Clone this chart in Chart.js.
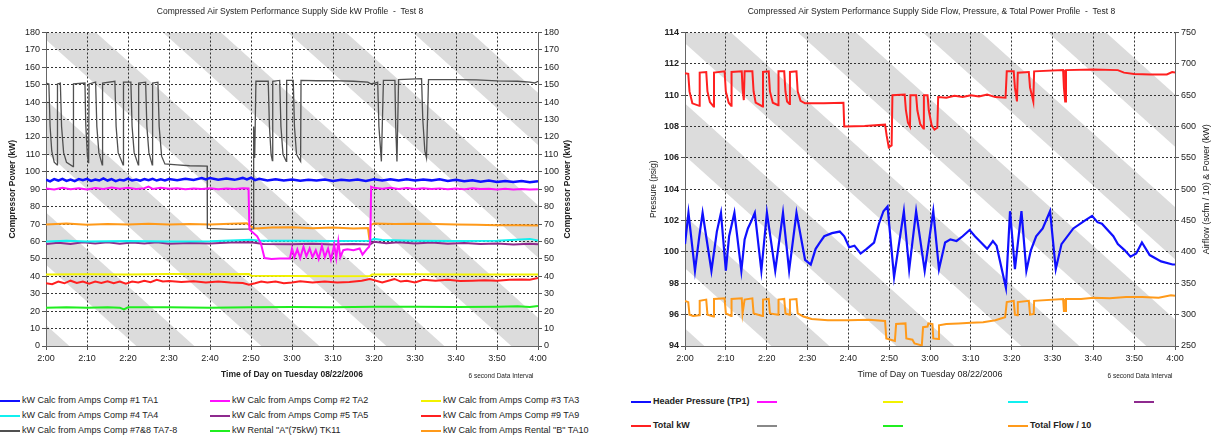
<!DOCTYPE html>
<html lang="en">
<head>
<meta charset="UTF-8" />
<title>Compressed Air System Performance - Test 8</title>
<script src="https://cdn.jsdelivr.net/npm/chart.js"></script>
<style>
    body {
        margin: 0;
        width: 1211px;
        height: 440px;
        overflow: hidden;
        position: relative;
        background: #fff;
        font-family: Arial, "Liberation Sans", sans-serif;
        color: #222;
    }
    canvas { position: absolute; top: 0; }
    #kwChart { left: 0; }
    #flowChart { left: 649px; }
    .item {
        position: absolute;
        height: 12px;
        line-height: 12px;
        font-size: 9px;
        white-space: nowrap;
    }
    .item i {
        display: inline-block;
        width: 20px;
        height: 2px;
        vertical-align: middle;
        margin-right: 2px;
    }
</style>
</head>
<body>
<canvas id="kwChart" width="580" height="390"></canvas>
<canvas id="flowChart" width="565" height="390"></canvas>
<div id="legends"></div>

<script>
// minutes after 2:00 -> value
const xTickLabels = ['2:00','2:10','2:20','2:30','2:40','2:50','3:00','3:10','3:20','3:30','3:40','3:50','4:00'];

// ---- left chart: kW per compressor ----
const comp1 = [[0,95.5],[1,94.5],[2,95.8],[3,95],[4,96],[5,94.8],[6,95.5],[7,94.6],[8,95.8],[9,95.2],[10,96],[11,94.8],[12,95.6],[13,95],[14,96.2],[15,95],[16,95.8],[17,94.7],[18,95.5],[19,95.1],[20,96.1],[21,95],[22,95.6],[23,94.9],[24,95.8],[25,95.2],[26,96],[27,95],[28,95.7],[29,95.1],[30,95.9],[32,95.2],[34,96],[36,95.3],[38,96.4],[39,95.6],[40,96.5],[42,95.5],[44,96.2],[46,95.4],[48,96.5],[49,95.6],[50,96.6],[51,95.2],[52,96],[54,95.1],[56,95.8],[58,95],[60,95.6],[62,94.9],[64,95.5],[66,95],[68,95.6],[70,94.8],[72,95.4],[74,95],[76,95.6],[78,94.8],[80,95.7],[82,95],[84,95.8],[86,95],[88,95.8],[90,95],[92,95.6],[94,95.1],[96,95.7],[98,94.8],[100,95.4],[102,94.6],[104,95.2],[106,94.3],[108,95],[110,94.2],[112,94.8],[114,94.1],[116,94.7],[118,94],[120,94.6]];
const comp2 = [[0,90.5],[2,89.8],[4,90.8],[6,90],[8,90.6],[10,89.8],[12,90.7],[14,90.2],[16,91],[18,90.3],[20,90.8],[22,90.1],[24,90.6],[25,91.5],[26,90.2],[28,90.8],[30,90.3],[32,90.6],[34,90],[36,90.4],[38,90.1],[40,90.5],[42,90],[44,90.4],[46,90.2],[48,90.6],[49.4,90.5],[49.6,67],[50.3,65.5],[51.5,63],[52.4,59],[53.3,50.5],[55,50],[57,50.2],[59.5,50.3],[60,56],[60.6,51],[61.3,55.5],[62,50.5],[62.8,57],[63.5,51.5],[64.3,56],[65,51],[65.8,55],[66.5,50],[67.3,57.5],[68,51],[68.8,56],[69.5,49.5],[70.3,58],[70.8,50.5],[71.3,60],[71.8,51],[72.5,55],[73.5,55.5],[75,55],[76.5,56],[77.2,52.5],[78.2,55.5],[78.8,57],[79.1,60],[79.3,91.5],[80,90.8],[82,90.3],[84,90.8],[86,90.2],[88,90.7],[90,90.1],[92,90.6],[94,90.2],[96,90.5],[98,90],[100,90.4],[102,90],[104,90.5],[106,90.1],[108,90.3],[110,89.9],[112,90.3],[114,89.8],[116,90.1],[118,89.8],[120,90]];
const comp3 = [[0,41],[10,41.2],[20,41],[30,41.3],[40,41.2],[49.5,41.4],[50,40.3],[60,40.2],[70,40],[79,40.2],[79.5,41],[90,41.2],[100,41],[110,41.1],[120,41]];
const comp4 = [[0,60],[5,60.5],[10,60],[20,60.3],[30,60],[40,60.2],[50,61],[52,60.5],[60,60.5],[70,60.3],[79,60.5],[80,61.5],[82,60.8],[90,60.5],[100,60.3],[110,60.5],[118,61.5],[120,60.5]];
const comp5 = [[0,58.5],[3,59.3],[6,58.6],[9,59.5],[12,58.8],[15,59.6],[18,58.7],[21,59.4],[24,58.9],[27,59.5],[30,58.7],[35,59.2],[40,58.9],[45,59.4],[50,59.6],[53,58.6],[60,58.4],[65,58.7],[70,58.3],[75,58.6],[79,58.3],[80,59.8],[83,59],[86,59.6],[90,58.9],[94,59.4],[98,58.7],[102,59.1],[106,58.5],[110,58.9],[114,58.3],[118,58.7],[120,58.4]];
const comp9 = [[0,36],[1.5,35.5],[3,37],[4.5,36],[6,37.5],[7.5,36.2],[9,37],[10.5,35.8],[12,37],[13.5,36.2],[15,37.2],[16.5,36],[18,37],[19.5,35.8],[21,37],[22.5,36.5],[24,37.5],[25.5,36.6],[27,38],[28.5,37],[30,37.3],[33,36.8],[36,37.2],[39,36.5],[42,37],[45,36.5],[48,36.2],[49.5,35.2],[51,36],[52.5,37],[54,36.5],[56,37],[58,36],[60,36.5],[62,37.2],[65,36.5],[68,37],[71,36.5],[74,36.8],[77,37.5],[79,38.5],[80.5,37.5],[82,36.5],[83.5,37.5],[85,38.5],[86.5,37],[88,37.5],[90,36.5],[92,38],[95,37.5],[98,38],[101,37.3],[104,37.5],[107,37.8],[110,37.5],[113,38],[116,38.2],[118,38],[120,39]];
const comp78 = [[0,151],[0.7,150.5],[1.0,126],[1.4,112],[2.0,105.5],[2.7,104],[2.8,150.5],[3.5,151],[3.8,126],[4.3,111],[5.0,105.5],[6.6,103],[6.7,150.5],[9.5,151],[9.7,127],[10.1,109],[10.4,105],[10.5,150.5],[12.1,151.5],[12.4,126],[12.9,111],[13.7,104],[13.8,151],[16.8,152],[17.1,126],[17.6,111],[18.8,104],[18.9,151.5],[20.7,151.5],[21.0,126],[21.5,111],[22.5,104],[22.6,151],[24.3,151.5],[24.6,126],[25.1,111],[25.9,104],[26.0,151],[27.3,151.5],[27.6,126],[28.2,109],[29.0,104.5],[32,104],[35,103.5],[39.3,103.3],[39.35,67.5],[45,67],[50.6,67.2],[50.65,126],[50.9,108],[51.2,152],[54.2,152],[54.5,126],[54.9,110],[55.2,106.5],[55.3,152],[57,152.5],[57.3,126],[57.8,110],[58.6,106],[58.7,152.5],[60.3,152.5],[60.6,126],[61.1,110],[62.1,106],[62.2,152.5],[66,152.3],[70,152.4],[75,152],[78.5,151.5],[79.2,150.5],[80.3,151],[80.9,151.5],[81.2,126],[81.8,106],[82.3,152.5],[85.1,152.5],[85.3,126],[85.6,106],[86,153],[91.6,153.5],[91.9,130],[92.4,112],[92.8,108],[93.3,153],[100,153],[105,152.8],[110,152.2],[115,152],[118,151.5],[119.2,151],[120,152]];
const rentalA = [[0,22],[5,22.2],[10,22],[15,22.3],[18,22],[19,21],[20,22.2],[30,22.2],[40,22],[50,22.3],[60,22.4],[70,22.3],[80,22.6],[90,22.5],[100,22.4],[110,22.6],[115,22.8],[118,22.4],[120,23]];
const rentalB = [[0,69.8],[5,70.3],[10,69.6],[15,70],[20,69.8],[25,70.2],[30,69.7],[35,70],[40,69.8],[45,70.2],[49,70.5],[50,68.5],[51,67.5],[55,68],[60,68.2],[65,67.6],[70,68],[75,67.5],[78.5,67.8],[78.9,61],[79.2,69.5],[80,70.3],[85,70],[90,70.2],[95,70],[100,69.7],[105,69.6],[110,69.4],[115,69.3],[120,69.2]];

// ---- right chart: pressure (psig), total kW, total flow / 10 ----
const headerPressure = [[0,100.5],[0.85,102.5],[2.44,98.8],[3.5,101],[4.31,102.5],[6.47,98.8],[7.8,101.3],[8.81,102.5],[10.0,98.8],[10.8,101],[12.1,102.5],[13.8,98.8],[14.6,100.8],[15.4,101.5],[16.3,102],[17.1,102.5],[18.7,98.8],[20.06,102.5],[22.1,98.8],[24,102.5],[25.5,98.8],[27.3,102.5],[29.4,99.5],[30.8,99.2],[32,100.2],[33,100.6],[34.1,101],[36,101.2],[37.9,101.3],[39,101],[40.2,100.3],[41.5,100.4],[43,99.9],[44.5,100.2],[46.3,100.6],[47.5,101.8],[48.6,102.6],[49.6,102.9],[51.2,98.4],[53.6,102.6],[54.9,98.9],[56.6,102.6],[58.7,98.8],[60.8,102.6],[62.2,98.9],[63.7,100.6],[65,100.8],[66.5,100.7],[68,101],[69.7,101.4],[71,101],[72.5,100.6],[74,100.2],[75.4,100.7],[76.3,100.4],[78.6,97.7],[79.6,102.6],[80.8,98.9],[82.4,102.6],[83.6,98.8],[84.7,100.1],[86,101],[87.6,101.5],[89.4,102.6],[90.8,98.9],[92.2,100.5],[95.1,101.5],[97.9,102],[99.7,102.3],[101,101.9],[102.1,101.8],[104.9,101],[106,100.5],[107.7,100.1],[109.1,99.7],[110.5,99.9],[111.9,100.6],[113.8,99.8],[116.6,99.4],[119.4,99.2],[120,99.2]];
const totalKw = [[0,685],[0.8,684],[1.1,656],[1.8,637],[3.5,633],[3.6,686],[5.2,687],[5.5,656],[6.1,639],[7.0,632],[7.1,686],[9.7,688],[10.0,656],[10.7,638],[11.3,633],[11.4,687],[13.9,688],[14.1,660],[14.4,642],[14.6,688],[16.5,688],[16.8,656],[17.3,638],[19.0,632],[19.1,687],[20.5,688],[20.8,656],[21.5,638],[22.8,634],[22.9,688],[24.3,688],[24.6,656],[25.0,640],[25.6,636],[25.7,687],[27.3,688],[27.6,656],[28.3,641],[29.4,637],[34,637],[38.8,638],[39.0,600],[44,601],[49,603],[49.4,585],[49.9,567],[50.6,570],[50.8,650],[53.8,651],[54.1,626],[54.6,606],[55.1,600],[55.2,650],[56.6,650],[56.9,626],[57.6,604],[58.4,597],[58.5,650],[59.4,650],[59.7,626],[60.4,602],[61.1,595],[61.8,598],[62.0,647],[64,646],[66,649],[68,647],[70,650],[72,648],[74,651],[76,647],[78.5,646],[78.8,688],[80.5,688],[80.8,662],[81.3,640],[81.5,686],[84.2,687],[84.5,662],[85.3,640],[85.5,688],[92.6,690],[92.8,662],[93.1,640],[93.3,690],[100,691],[106,690],[107.5,686],[110,684],[114,683],[118,683],[119.3,687],[120,686]];
const totalFlow = [[0,322],[0.8,320],[1.1,300],[2,298],[3.5,299],[3.6,322],[5.2,324],[5.5,300],[7.0,297],[7.1,325],[9.7,326],[10.0,302],[11.3,298],[11.4,325],[13.9,326],[14.1,302],[14.6,324],[16.5,326],[16.8,302],[19.0,298],[19.1,324],[20.5,325],[20.8,302],[22.8,300],[22.9,324],[24.3,325],[24.6,302],[25.6,300],[25.7,324],[27.3,325],[27.6,302],[29,297],[31,293],[35,291],[40,291],[45,292],[49.0,290],[49.3,262],[51.4,258],[51.7,285],[54.0,286],[54.2,262],[55.7,260],[56.2,254],[58.0,251],[58.3,280],[59.4,281],[59.6,286],[60.6,285],[60.8,262],[62.0,261],[62.2,283],[64,285],[67,286],[70,287],[73,288],[76,291],[78.4,296],[78.8,320],[80.5,322],[80.8,300],[81.4,299],[81.5,320],[84.2,322],[84.5,300],[85.4,301],[85.5,322],[92.6,325],[92.8,306],[93.2,306],[93.3,325],[97,325],[100,327],[104,326],[108,328],[112,328],[116,327],[119,331],[120,330]];

// legend labels
const kwNames = ['kW Calc from Amps Comp #1  TA1', 'kW Calc from Amps Comp #2 TA2', 'kW Calc from Amps Comp #3 TA3',
                 'kW Calc from Amps Comp #4  TA4', 'kW Calc from Amps Comp #5 TA5', 'kW Calc from Amps Comp #9 TA9',
                 'kW Calc from Amps Comp #7&8 TA7-8', 'kW Rental "A"(75kW) TK11', 'kW Calc from Amps Rental "B" TA10'];
const flowNames = ['Header Pressure (TP1)', '', '', '', '', 'Total kW', '', '', 'Total Flow / 10'];

const kwColors = ['#1010ff', '#ff10ff', '#f2f200', '#10f0f0', '#8e2a8e', '#ff2020', '#505050', '#20ee20', '#ff9a1a'];
const flowColors = ['#1010ff', '#ff10ff', '#f2f200', '#10f0f0', '#8e2a8e', '#ff2020', '#888888', '#20ee20', '#ff9a1a'];

Chart.defaults.font.family = 'Arial, "Liberation Sans", sans-serif';
Chart.defaults.color = '#222';

// diagonal grey watermark bands behind the grid
const stripes = {
    id: 'stripes',
    beforeDraw(chart, args, o) {
        const { ctx, chartArea: a } = chart;
        const run = a.height / o.slope;
        ctx.save();
        ctx.beginPath();
        ctx.rect(a.left, a.top, a.width, a.height);
        ctx.clip();
        ctx.fillStyle = o.color;
        for (let x0 = a.left + o.phase - 6 * o.period; x0 < a.right; x0 += o.period) {
            ctx.beginPath();
            ctx.moveTo(x0, a.top);
            ctx.lineTo(x0 + o.width, a.top);
            ctx.lineTo(x0 + o.width + run, a.bottom);
            ctx.lineTo(x0 + run, a.bottom);
            ctx.fill();
        }
        ctx.restore();
    }
};

// right axis title (reads bottom to top) and the data interval note
const extras = {
    id: 'extras',
    afterDraw(chart, args, o) {
        const { ctx, chartArea: a } = chart;
        ctx.save();
        ctx.fillStyle = '#222';
        ctx.textAlign = 'center';
        ctx.textBaseline = 'middle';
        ctx.font = '6.5px Arial, "Liberation Sans", sans-serif';
        ctx.fillText('6 second Data Interval', a.right - o.noteDx, 376);
        ctx.translate(o.sideX, (a.top + a.bottom) / 2);
        ctx.rotate(-Math.PI / 2);
        ctx.font = o.sideFont;
        ctx.fillText(o.side, 0, 0);
        ctx.restore();
    }
};

function line(data, color, width, axis) {
    return {
        data: data,
        borderColor: color,
        backgroundColor: color,
        borderWidth: width,
        pointRadius: 0,
        tension: 0,
        fill: false,
        yAxisID: axis || 'y'
    };
}

function xAxis(bold, size) {
    return {
        type: 'linear', min: 0, max: 120,
        afterFit: s => { s.height = 44; },
        ticks: { stepSize: 10, autoSkip: false, maxRotation: 0, padding: 3, color: '#222',
                 font: { size: 9 }, callback: (v, i) => xTickLabels[i] },
        grid: { color: '#333', tickLength: 4, tickColor: '#555', tickBorderDash: [] },
        border: { display: true, color: '#666', width: 1, dash: [2, 2] },
        title: { display: true, text: 'Time of Day on Tuesday 08/22/2006', color: '#222',
                 font: { size: size, weight: bold ? 'bold' : 'normal' }, padding: { top: 0, bottom: 10 } }
    };
}

function yAxis(pos, min, max, step, width, tickBold, title) {
    return {
        type: 'linear', position: pos, min: min, max: max,
        afterFit: s => { s.width = width; },
        ticks: { stepSize: step, padding: 2, color: '#222', font: { size: 9, weight: tickBold ? 'bold' : 'normal' } },
        grid: { drawOnChartArea: pos === 'left', color: '#333', tickLength: 4, tickColor: '#555', tickBorderDash: [] },
        border: { display: true, color: '#666', width: 1, dash: [2, 2] },
        title: title || { display: false }
    };
}

const kwSeries = [comp1, comp2, comp3, comp4, comp5, comp9, comp78, rentalA, rentalB];
const kwWidths = [2.5, 2, 2, 2, 2, 2, 1.3, 2, 2];

new Chart(document.getElementById('kwChart'), {
    type: 'line',
    data: { datasets: kwSeries.map((d, i) => Object.assign(line(d, kwColors[i], kwWidths[i]), { label: kwNames[i] })) },
    options: {
        responsive: false,
        animation: false,
        devicePixelRatio: 1,
        layout: { padding: 0 },
        plugins: {
            legend: { display: false },
            tooltip: { enabled: false },
            title: { display: true, text: 'Compressed Air System Performance Supply Side kW Profile  -  Test 8',
                     color: '#222', font: { size: 8.5, weight: 'normal' }, padding: { top: 7, bottom: 15.3 } },
            stripes: { color: '#dcdcdc', slope: 0.9, period: 125, width: 58, phase: -8 },
            extras: { noteDx: 37, sideX: 568, side: 'Compressor Power (kW)', sideFont: 'bold 8.5px Arial, "Liberation Sans", sans-serif' }
        },
        scales: {
            x: xAxis(true, 8.5),
            y: yAxis('left', 0, 180, 10, 46, false,
                { display: true, text: 'Compressor Power (kW)', color: '#222', font: { size: 8.5, weight: 'bold' }, padding: { top: 8, bottom: 0 } }),
            y2: yAxis('right', 0, 180, 10, 42, false)
        }
    },
    plugins: [stripes, extras]
});

new Chart(document.getElementById('flowChart'), {
    type: 'line',
    data: {
        datasets: [
            Object.assign(line(headerPressure, flowColors[0], 2.2, 'y'), { label: flowNames[0] }),
            Object.assign(line(totalKw, flowColors[5], 2, 'y2'), { label: flowNames[5] }),
            Object.assign(line(totalFlow, flowColors[8], 2, 'y2'), { label: flowNames[8] })
        ]
    },
    options: {
        responsive: false,
        animation: false,
        devicePixelRatio: 1,
        layout: { padding: 0 },
        plugins: {
            legend: { display: false },
            tooltip: { enabled: false },
            title: { display: true, text: 'Compressed Air System Performance Supply Side Flow, Pressure, & Total Power Profile  -  Test 8',
                     color: '#222', font: { size: 8.5, weight: 'normal' }, padding: { top: 7, bottom: 15.3 } },
            stripes: { color: '#dcdcdc', slope: 0.9, period: 125, width: 58, phase: -12 },
            extras: { noteDx: 35, sideX: 558, side: 'Airflow (scfm / 10) & Power (kW)', sideFont: '9px Arial, "Liberation Sans", sans-serif' }
        },
        scales: {
            x: xAxis(false, 9),
            y: yAxis('left', 94, 114, 2, 36, true,
                { display: true, text: 'Pressure (psig)', color: '#222', font: { size: 8.5 }, padding: { top: 0, bottom: 0 } }),
            y2: yAxis('right', 250, 750, 50, 39, false)
        }
    },
    plugins: [stripes, extras]
});

// legends below the charts
const legendBox = document.getElementById('legends');
function legendItem(x, y, color, text, bold) {
    const d = document.createElement('div');
    d.className = 'item';
    d.style.left = x + 'px';
    d.style.top = (y - 6) + 'px';
    if (bold) d.style.fontWeight = 'bold';
    const k = document.createElement('i');
    k.style.background = color;
    d.appendChild(k);
    d.appendChild(document.createTextNode(text));
    legendBox.appendChild(d);
}
const kwCols = [0, 210, 421], kwRows = [400, 415, 430];
kwNames.forEach((n, i) => legendItem(kwCols[i % 3], kwRows[Math.floor(i / 3)], kwColors[i], n, false));
const flowCols = [631, 757, 883, 1008, 1134], flowRows = [401, 425];
flowNames.forEach((n, i) => legendItem(flowCols[i % 5], flowRows[Math.floor(i / 5)], flowColors[i], n, true));
</script>
</body>
</html>
